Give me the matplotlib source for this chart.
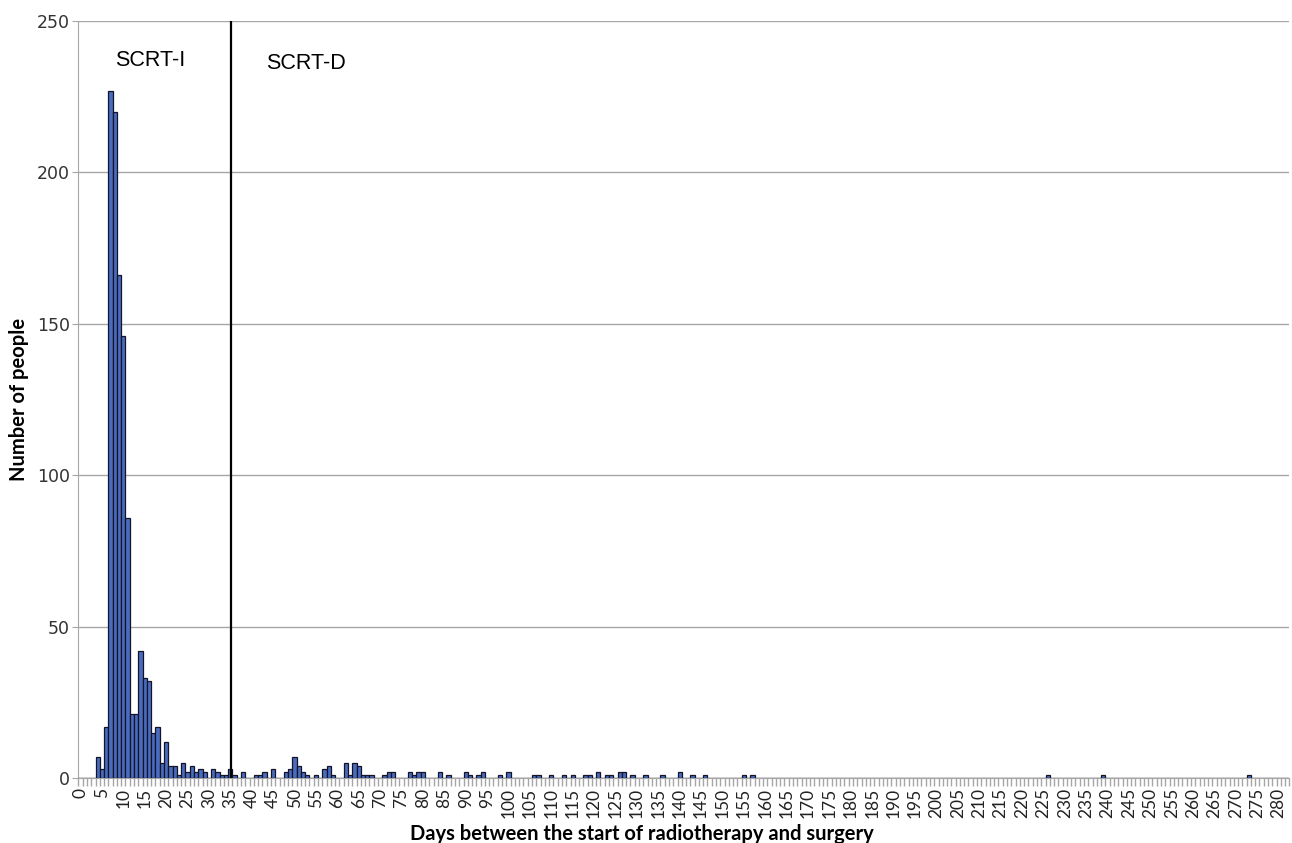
import numpy as np
import matplotlib
matplotlib.use("Agg")
import matplotlib.pyplot as plt
from matplotlib.ticker import FixedLocator

# days with at least one person, and number of people on that day
days = [4, 5, 6, 7, 8, 9, 10, 11, 12, 13, 14, 15, 16, 17, 18, 19, 20,
        21, 22, 23, 24, 25, 26, 27, 28, 29, 31, 32, 33, 34, 35, 36, 38,
        41, 42, 43, 45, 48, 49, 50, 51, 52, 53, 55, 57, 58, 59,
        62, 63, 64, 65, 66, 67, 68, 71, 72, 73, 77, 78, 79, 80, 84, 86,
        90, 91, 93, 94, 98, 100, 106, 107, 110, 113, 115, 118, 119,
        121, 123, 124, 126, 127, 129, 132, 136, 140, 143, 146, 155, 157,
        226, 239, 273]
people = [7, 3, 17, 227, 220, 166, 146, 86, 21, 21, 42, 33, 32, 15, 17, 5, 12,
          4, 4, 1, 5, 2, 4, 2, 3, 2, 3, 2, 1, 1, 3, 1, 2,
          1, 1, 2, 3, 2, 3, 7, 4, 2, 1, 1, 3, 4, 1,
          5, 1, 5, 4, 1, 1, 1, 1, 2, 2, 2, 1, 2, 2, 2, 1,
          2, 1, 1, 2, 1, 2, 1, 1, 1, 1, 1, 1, 1,
          2, 1, 1, 2, 2, 1, 1, 1, 2, 1, 1, 1, 1,
          1, 1, 1]
max_day = 282
cutoff_day = 35.25

all_days = np.arange(0, max_day + 1)
counts = np.zeros(len(all_days))
counts[days] = people

fig = plt.figure(figsize=(12.92, 8.43), dpi=100)
ax = fig.add_axes([0.0607, 0.0771, 0.9373, 0.8979])

ax.bar(all_days, counts, width=1.0, color="#4a6cbf", edgecolor="#141428",
       linewidth=0.9, zorder=3)

ax.set_xlim(-0.5, max_day + 0.5)
ax.set_ylim(0, 250)

# horizontal grid
ax.set_yticks(range(0, 251, 50))
ax.yaxis.grid(True, color="#a6a6a6", linewidth=1.0, zorder=0)
ax.tick_params(axis="y", length=4, color="#a6a6a6", labelsize=12.5,
               labelcolor="#333333", pad=2)

# x ticks: labels every 5 days, small marks between categories
ax.xaxis.set_major_locator(FixedLocator(range(0, max_day + 1, 5)))
ax.set_xticklabels([str(d) for d in range(0, max_day + 1, 5)],
                   rotation=90, fontsize=12.5, family="Lato", color="#222222")
ax.xaxis.set_minor_locator(FixedLocator(np.arange(-0.5, max_day + 1, 1.0)))
ax.tick_params(axis="x", which="major", length=0, pad=7)
ax.tick_params(axis="x", which="minor", length=6, color="#a6a6a6", width=1.0)

for side in ["top", "right"]:
    ax.spines[side].set_visible(False)
ax.spines["left"].set_color("#a6a6a6")
ax.spines["bottom"].set_color("#a6a6a6")

# cut-off between immediate and delayed surgery
ax.axvline(cutoff_day, color="black", linewidth=1.6, zorder=4)
ax.text(16.2, 237, "SCRT-I", fontsize=15.5, family="Liberation Sans",
        ha="center", va="center")
ax.text(52.7, 236, "SCRT-D", fontsize=15.5, family="Liberation Sans",
        ha="center", va="center")

ax.set_ylabel("Number of people", fontsize=14.5, fontweight="bold",
              family="Lato")
ax.yaxis.set_label_coords(-0.0405, 0.5)
ax.set_xlabel("Days between the start of radiotherapy and surgery",
              fontsize=14.5, fontweight="bold", family="Lato")
ax.xaxis.set_label_coords(0.465, -0.061)

fig.savefig("out.png", dpi=100)
